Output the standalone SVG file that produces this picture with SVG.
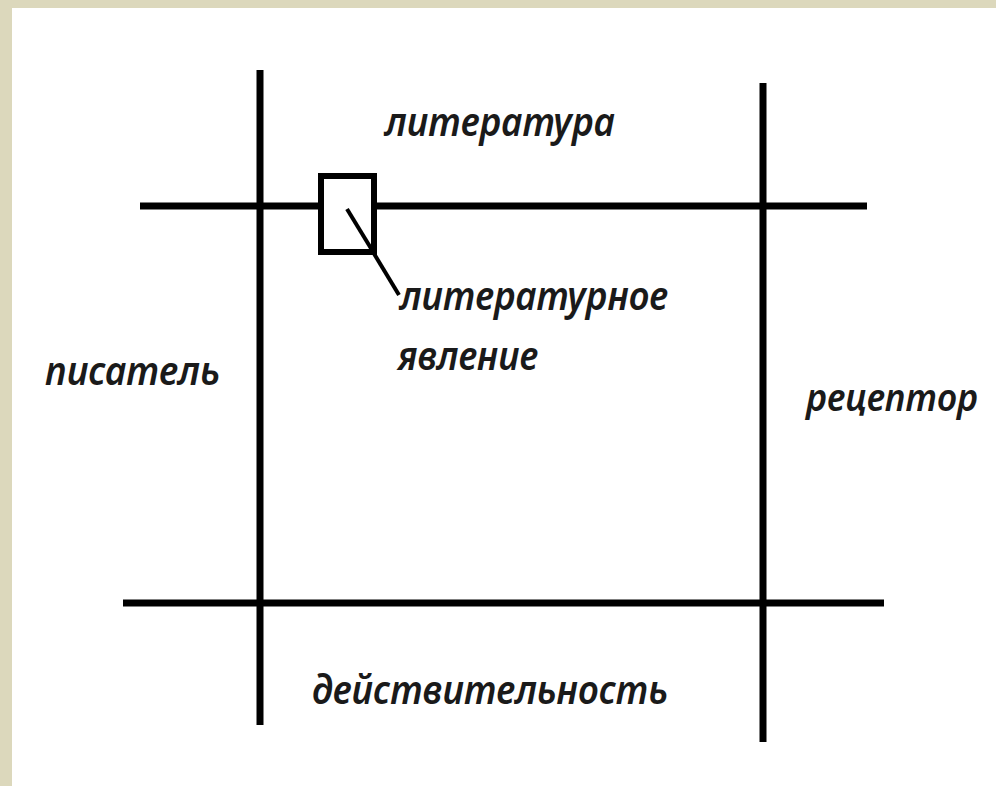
<svg xmlns="http://www.w3.org/2000/svg" width="996" height="786" viewBox="0 0 996 786">
<style>
.ln{stroke:#000;stroke-width:7;stroke-linecap:butt;fill:none}
.lb{font-family:"Noto Sans","Open Sans","DejaVu Sans",sans-serif;font-style:italic;font-weight:600;font-size:40px;fill:#1a1a1a}
</style>
<rect x="0" y="0" width="996" height="786" fill="#dcd8bc"/>
<rect x="12" y="8" width="984" height="778" fill="#ffffff"/>
<g id="connectors">
<line class="ln" x1="260" y1="70" x2="260" y2="725"/>
<line class="ln" x1="763" y1="83" x2="763" y2="742"/>
<line class="ln" x1="140" y1="206" x2="867" y2="206"/>
<line class="ln" x1="123" y1="603" x2="884" y2="603"/>
<line x1="347" y1="209" x2="399" y2="295" stroke="#000" stroke-width="4"/>
</g>
<g id="literaturnoe-yavlenie">
<rect x="321" y="176" width="53" height="76" fill="#fff" stroke="#000" stroke-width="6"/>
<line x1="347" y1="209" x2="372" y2="250" stroke="#000" stroke-width="4"/>
<text class="lb" x="400" y="310" textLength="268" lengthAdjust="spacingAndGlyphs">литературное</text>
<text class="lb" x="398" y="370" textLength="140" lengthAdjust="spacingAndGlyphs">явление</text>
</g>
<g id="literatura"><text class="lb" x="385" y="136" textLength="230" lengthAdjust="spacingAndGlyphs">литература</text></g>
<g id="pisatel"><text class="lb" x="45" y="385" textLength="175" lengthAdjust="spacingAndGlyphs">писатель</text></g>
<g id="receptor"><text class="lb" x="806" y="411" style="font-size:37px" textLength="172" lengthAdjust="spacingAndGlyphs">рецептор</text></g>
<g id="deystvitelnost"><text class="lb" x="312" y="704" textLength="356" lengthAdjust="spacingAndGlyphs">действительность</text></g>
</svg>
